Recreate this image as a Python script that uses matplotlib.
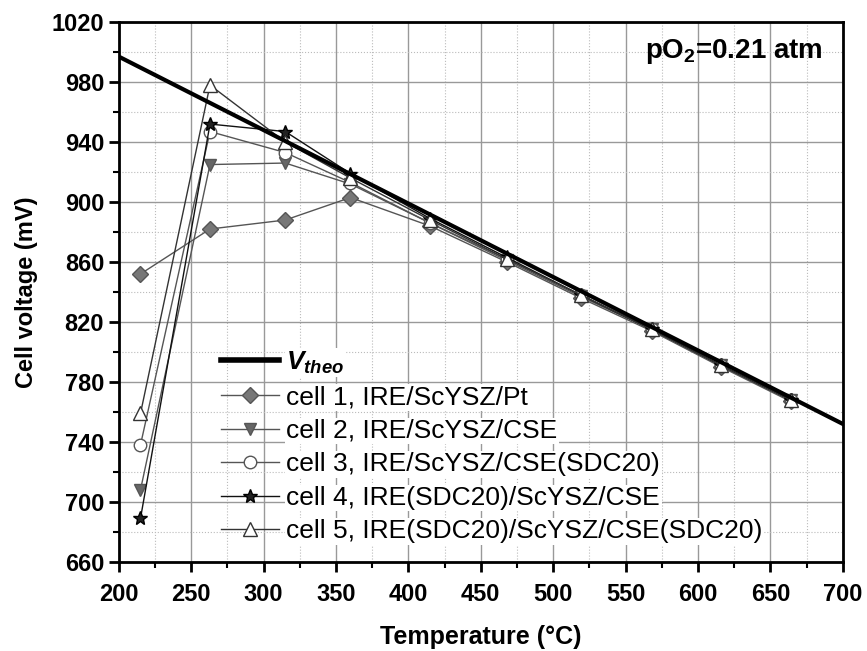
import matplotlib.pyplot as plt

# temperatures (deg C) and cell voltages (mV)
temps = [215, 263, 315, 360, 415, 468, 519, 568, 616, 664]
cell1 = [852, 882, 888, 903, 884, 860, 836, 814, 790, 767]
cell2 = [708, 925, 926, 912, 886, 861, 837, 815, 791, 768]
cell3 = [738, 947, 933, 913, 886, 862, 838, 815, 791, 768]
cell4 = [689, 952, 947, 919, 889, 863, 838, 815, 791, 768]
cell5 = [759, 978, 940, 916, 888, 862, 838, 815, 791, 768]

# theoretical voltage line end points
theo_t = [200, 700]
theo_v = [997, 752]

labels = ['cell 1, IRE/ScYSZ/Pt',
          'cell 2, IRE/ScYSZ/CSE',
          'cell 3, IRE/ScYSZ/CSE(SDC20)',
          'cell 4, IRE(SDC20)/ScYSZ/CSE',
          'cell 5, IRE(SDC20)/ScYSZ/CSE(SDC20)']

x_major = list(range(200, 701, 50))
x_minor = list(range(225, 700, 50))
y_major = list(range(660, 1021, 40))
y_minor = list(range(680, 1020, 40))

plt.rcParams['font.family'] = ['Liberation Sans', 'DejaVu Sans']
plt.rcParams['mathtext.fontset'] = 'custom'
plt.rcParams['mathtext.it'] = 'Liberation Sans:italic:bold'
plt.rcParams['mathtext.bf'] = 'Liberation Sans:bold'

fig = plt.figure(figsize=(8.67, 6.51), dpi=100)
ax = fig.add_axes([0.137, 0.137, 0.835, 0.829])

ax.plot(theo_t, theo_v, color='black', lw=3, label=r'$V_{theo}$', zorder=5)
ax.plot(temps, cell1, color='#555555', lw=1, marker='D', ms=8,
        mfc='#777777', mec='#555555', label=labels[0])
ax.plot(temps, cell2, color='#555555', lw=1, marker='v', ms=9,
        mfc='#666666', mec='#555555', label=labels[1])
ax.plot(temps, cell3, color='#555555', lw=1, marker='o', ms=9,
        mfc='white', mec='#555555', label=labels[2])
ax.plot(temps, cell4, color='#111111', lw=1, marker='*', ms=10,
        mfc='#222222', mec='black', label=labels[3])
ax.plot(temps, cell5, color='#333333', lw=1, marker='^', ms=10,
        mfc='white', mec='#333333', label=labels[4])

ax.set_xlim(200, 700)
ax.set_ylim(660, 1020)
ax.set_xticks(x_major)
ax.set_xticks(x_minor, minor=True)
ax.set_yticks(y_major)
ax.set_yticks(y_minor, minor=True)

ax.grid(which='major', color='#999999', lw=1, ls='-')
ax.grid(which='minor', color='#bbbbbb', lw=0.8, ls=':')
ax.set_axisbelow(True)

for s in ax.spines.values():
    s.set_linewidth(2)
ax.tick_params(which='major', direction='out', length=7, width=2, labelsize=17)
ax.tick_params(axis='x', which='major', pad=8)
ax.tick_params(which='minor', direction='out', length=4, width=1.5)
for lab in ax.get_xticklabels() + ax.get_yticklabels():
    lab.set_fontweight('bold')

ax.set_xlabel('Temperature (°C)', fontsize=18, fontweight='bold', labelpad=14)
ax.set_ylabel('Cell voltage (mV)', fontsize=17, fontweight='bold', labelpad=10)

ax.text(0.972, 0.972, r'pO$_\mathbf{2}$=0.21 atm', transform=ax.transAxes,
        ha='right', va='top', fontsize=20, fontweight='bold')

leg = ax.legend(loc='lower left', bbox_to_anchor=(0.115, 0.0), frameon=False,
                fontsize=19, handlelength=2.2, labelspacing=0.36,
                borderpad=0.2, handletextpad=0.3)
for t in leg.get_texts():
    t.set_bbox(dict(facecolor='white', edgecolor='none', pad=1))
leg.get_lines()[0].set_linewidth(4)

fig.savefig('out.png', dpi=100)
